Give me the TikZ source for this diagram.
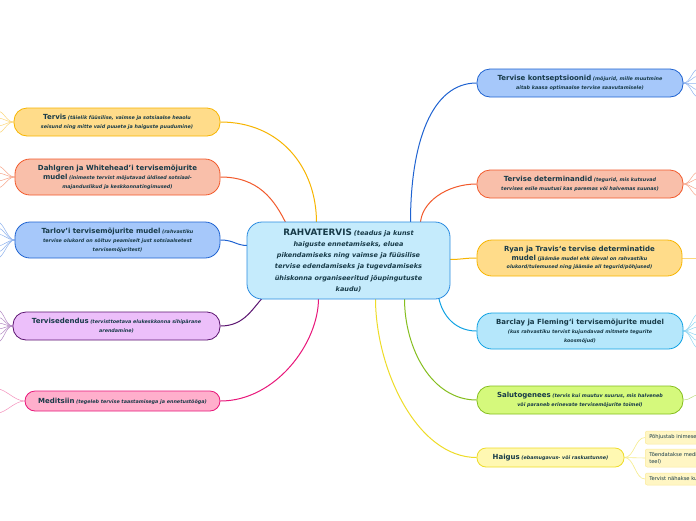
\documentclass[tikz,border=0pt]{standalone}
\usepackage{fontspec}
\setmainfont{DejaVu Sans}
\usetikzlibrary{calc,backgrounds}
\definecolor{txt}{HTML}{173A48}
\definecolor{yoB}{HTML}{F7B500}\definecolor{yoF}{HTML}{FFDC8A}\definecolor{yoL}{HTML}{FCD77A}
\definecolor{orB}{HTML}{F25A2C}\definecolor{orF}{HTML}{F9BFAA}\definecolor{orL}{HTML}{F7A78C}
\definecolor{blB}{HTML}{1F63D1}\definecolor{blF}{HTML}{A6C8FA}\definecolor{blL}{HTML}{8FB3EE}
\definecolor{puB}{HTML}{5B1470}\definecolor{puF}{HTML}{ECBFFA}\definecolor{puL}{HTML}{B48AC4}
\definecolor{piB}{HTML}{E8177A}\definecolor{piF}{HTML}{FFAFCC}\definecolor{piL}{HTML}{F590BC}
\definecolor{cyB}{HTML}{10A2E3}\definecolor{cyF}{HTML}{B5E7FB}\definecolor{cyL}{HTML}{8FD5F2}
\definecolor{grB}{HTML}{85BE1E}\definecolor{grF}{HTML}{D5F97C}\definecolor{grL}{HTML}{BCDD80}
\definecolor{ylB}{HTML}{EEDC28}\definecolor{ylF}{HTML}{FFF8B2}\definecolor{ylL}{HTML}{F6EC8A}
\definecolor{ceF}{HTML}{C5EBFC}\definecolor{ceB}{HTML}{2A8BE0}
\definecolor{subF}{HTML}{FFF6C4}\definecolor{subB}{HTML}{FBEA9A}
\newcommand\hdx[1]{{\fontsize{7}{9.3}\selectfont\bfseries #1}}
\newcommand\sbx[1]{{\fontsize{4.85}{9.3}\selectfont\bfseries\itshape #1}}
\newcommand\chd[1]{{\fontsize{8.8}{11.2}\selectfont\bfseries #1}}
\newcommand\csb[1]{{\fontsize{6.5}{11.2}\selectfont\bfseries\itshape #1}}
\tikzset{
  topic/.style={draw, line width=0.8pt, rounded corners=13pt, inner sep=0pt, align=center, text=txt, font=\fontsize{4.85}{9.3}\selectfont},
  conn/.style={line width=1pt},
  fan/.style={line width=0.5pt},
  leaf/.style={draw=subB, fill=subF, line width=0.5pt, rounded corners=2pt, inner sep=0pt, inner xsep=4pt, anchor=west, align=left, text=txt, font=\fontsize{5.2}{6.8}\selectfont},
}
\begin{document}
\begin{tikzpicture}[x=1pt,y=-1pt]
\useasboundingbox (0,0) rectangle (696,520);
% nodes
\node[topic, fill=ceF, draw=ceB, rounded corners=15pt, minimum width=203, minimum height=77, font=\fontsize{6.5}{11.2}\selectfont] (c) at (348.5,260.5)
  {\chd{RAHVATERVIS} \csb{(teadus ja kunst}\\ \csb{haiguste ennetamiseks, eluea}\\ \csb{pikendamiseks ning vaimse ja füüsilise}\\ \csb{tervise edendamiseks ja tugevdamiseks}\\ \csb{ühiskonna organiseeritud jõupingutuste}\\ \csb{kaudu)}};
\node[topic, fill=yoF, draw=yoB, minimum width=206, minimum height=28] (tervis) at (117,122)
  {\hdx{Tervis} \sbx{(täielik füüsilise, vaimse ja sotsiaalse heaolu}\\ \sbx{seisund ning mitte vaid puuete ja haiguste puudumine)}};
\node[topic, fill=orF, draw=orB, rounded corners=15pt, minimum width=205, minimum height=36, font=\fontsize{4.85}{8.8}\selectfont] (dahl) at (117.5,177)
  {\hdx{Dahlgren ja Whitehead'i tervisemõjurite}\\ \hdx{mudel} \sbx{(inimeste tervist mõjutavad üldised sotsiaal-}\\ \sbx{majanduslikud ja keskkonnatingimused)}};
\node[topic, fill=blF, draw=blB, rounded corners=15pt, minimum width=205, minimum height=36, font=\fontsize{4.85}{8.8}\selectfont] (tarlov) at (117.5,240)
  {\hdx{Tarlov'i tervisemõjurite mudel} \sbx{(rahvastiku}\\ \sbx{tervise olukord on sõltuv peamiselt just sotsiaalsetest}\\ \sbx{tervisemõjuritest)}};
\node[topic, fill=puF, draw=puB, minimum width=207, minimum height=28] (edend) at (116.5,326)
  {\hdx{Tervisedendus} \sbx{(tervisttoetava elukeskkonna sihipärane}\\ \sbx{arendamine)}};
\node[topic, fill=piF, draw=piB, rounded corners=10pt, minimum width=195, minimum height=20] (medit) at (122.5,401)
  {\hdx{Meditsiin} \sbx{(tegeleb tervise taastamisega ja ennetustööga)}};
\node[topic, fill=blF, draw=blB, minimum width=206, minimum height=28] (konts) at (580,83)
  {\hdx{Tervise kontseptsioonid} \sbx{(mõjurid, mille muutmine}\\ \sbx{aitab kaasa optimaalse tervise saavutamisele)}};
\node[topic, fill=orF, draw=orB, minimum width=206, minimum height=28] (determ) at (580,184)
  {\hdx{Tervise determinandid} \sbx{(tegurid, mis kutsuvad}\\ \sbx{tervises esile muutusi kas paremas või halvemas suunas)}};
\node[topic, fill=yoF, draw=yoB, rounded corners=15pt, minimum width=205, minimum height=36, font=\fontsize{4.85}{8.8}\selectfont] (ryan) at (579.5,258)
  {\hdx{Ryan ja Travis`e tervise determinatide}\\ \hdx{mudel} \sbx{(jäämäe mudel ehk üleval on rahvastiku}\\ \sbx{olukord/tulemused ning jäämäe all tegurid/põhjused)}};
\node[topic, fill=cyF, draw=cyB, rounded corners=15pt, minimum width=206, minimum height=36, font=\fontsize{4.85}{8.8}\selectfont] (barclay) at (580,331)
  {\hdx{Barclay ja Fleming`i tervisemõjurite mudel}\\ \sbx{(kus rahvastiku tervist kujundavad mitmete tegurite}\\ \sbx{koosmõjud)}};
\node[topic, fill=grF, draw=grB, minimum width=206, minimum height=28] (saluto) at (580,400)
  {\hdx{Salutogenees} \sbx{(tervis kui muutuv suurus, mis halveneb}\\ \sbx{või paraneb erinevate tervisemõjurite toimel)}};
\node[topic, fill=ylF, draw=ylB, rounded corners=9pt, minimum width=147, minimum height=19] (haigus) at (550.5,457.5)
  {\hdx{Haigus} \sbx{(ebamugavus- või raskustunne)}};
% leaves of Haigus
\node[leaf, minimum height=13] (h1) at (645,437.5) {Põhjustab inimesele ebamugavust};
\node[leaf, minimum height=18, text width=75] (h2) at (645,458) {Tõendatakse meditsiiniliselt\\teel)};
\node[leaf, minimum height=12] (h3) at (645,479) {Tervist nähakse kui};
% connectors
\begin{scope}[on background layer]
\fill[white] (0,0) rectangle (696,520);
\draw[conn, yoB] (tervis.east) .. controls +(60,0) and +(0,-55) .. ($(c.north)+(-32,1)$);
\draw[conn, orB] (dahl.east) .. controls +(38,0) and +(-12,-25) .. ($(c.north west)+(40,3)$);
\draw[conn, blB] (tarlov.east) .. controls +(14,0) and +(-12,0) .. ($(c.west)+(1,-15)$);
\draw[conn, puB] (edend.east) .. controls +(25,0) and +(-14,14) .. ($(c.south west)+(20,-6)$);
\draw[conn, piB] (medit.east) .. controls +(55,0) and +(0,45) .. ($(c.south)+(-30,-1)$);
\draw[conn, blB] (konts.west) .. controls +(-45,0) and +(0,-80) .. ($(c.north)+(62,1)$);
\draw[conn, orB] (determ.west) .. controls +(-30,0) and +(0,-22) .. ($(c.north east)+(-30,3)$);
\draw[conn, yoB] (ryan.west) .. controls +(-12,0) and +(12,0) .. ($(c.east)+(-1,-1)$);
\draw[conn, cyB] (barclay.west) .. controls +(-25,0) and +(2,15) .. ($(c.south east)+(-12,-4)$);
\draw[conn, grB] (saluto.west) .. controls +(-45,0) and +(0,50) .. ($(c.south)+(56,-1)$);
\draw[conn, ylB] (haigus.west) .. controls +(-60,0) and +(0,70) .. ($(c.south)+(27,-1)$);
\foreach \n in {h1,h2,h3}
  \draw[fan, ylL, line width=0.6pt] (haigus.east) .. controls +(10,0) and +(-10,0) .. (\n.west);
% collapsed children (off the page)
\foreach \yy [count=\i] in {-11,-4,4,11} {
  \coordinate (tf\i) at ($(tervis.west)+(-16,\yy)$);
  \draw[fan, yoL] (tervis.west) .. controls +(-7,0) and +(6,0) .. (tf\i);}
\foreach \yy [count=\i] in {-11,-4,4,11} {
  \coordinate (df\i) at ($(dahl.west)+(-17,\yy)$);
  \draw[fan, orL] (dahl.west) .. controls +(-7,0) and +(6,0) .. (df\i);}
\foreach \yy [count=\i] in {-18,-12,-6,6,12,18} {
  \coordinate (lf\i) at ($(tarlov.west)+(-17,\yy)$);
  \draw[fan, blL] (tarlov.west) .. controls +(-7,0) and +(6,0) .. (lf\i);}
\foreach \yy [count=\i] in {-16,-9,-3,3,9,16} {
  \coordinate (ef\i) at ($(edend.west)+(-15,\yy)$);
  \draw[fan, puL] (edend.west) .. controls +(-7,0) and +(6,0) .. (ef\i);}
\foreach \yy [count=\i] in {-12,12} {
  \coordinate (mf\i) at ($(medit.west)+(-27,\yy)$);
  \draw[fan, piL] (medit.west) .. controls +(-10,0) and +(8,0) .. (mf\i);}
\foreach \yy [count=\i] in {-14,-7,0,7,14} {
  \coordinate (kf\i) at ($(konts.east)+(15,\yy)$);
  \draw[fan, blL] (konts.east) .. controls +(7,0) and +(-6,0) .. (kf\i);}
\foreach \yy [count=\i] in {-12,-5,5,12} {
  \coordinate (tdf\i) at ($(determ.east)+(15,\yy)$);
  \draw[fan, orL] (determ.east) .. controls +(7,0) and +(-6,0) .. (tdf\i);}
\coordinate (rf1) at ($(ryan.east)+(16,0)$);
\draw[fan, yoL] (ryan.east) -- (rf1);
\foreach \yy [count=\i] in {-17,-10,-4,4,10,17} {
  \coordinate (bf\i) at ($(barclay.east)+(15,\yy)$);
  \draw[fan, cyL] (barclay.east) .. controls +(7,0) and +(-6,0) .. (bf\i);}
\coordinate (sf1) at ($(saluto.east)+(15,-5)$);
\draw[fan, grL] (saluto.east) .. controls +(7,0) and +(-6,0) .. (sf1);
\end{scope}
\end{tikzpicture}
\end{document}
